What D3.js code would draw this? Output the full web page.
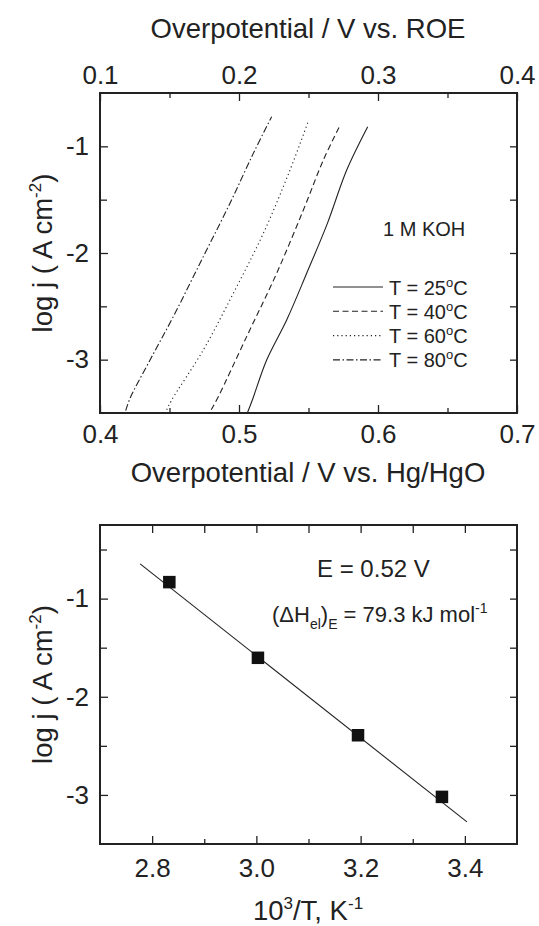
<!DOCTYPE html>
<html>
<head>
<meta charset="utf-8">
<script src="https://cdn.jsdelivr.net/npm/d3@7"></script>
<style>
  body { margin: 0; background: #fff; }
  svg { font-family: "Liberation Sans", Arial, sans-serif; }
  .tick line { stroke: #222; stroke-width: 1.3; }
  .tick text { fill: #222; }
</style>
</head>
<body>
<svg id="chart" width="539" height="926"></svg>
<script>
// Tafel curves, overpotential vs Hg/HgO (V) and log j
var curve25 = [[0.506,-3.5],[0.5096,-3.378],[0.5199,-3.003],[0.5343,-2.628],[0.5487,-2.19],[0.5636,-1.722],[0.5775,-1.222],[0.5926,-0.816]]
var curve40 = [[0.480,-3.47],[0.4851,-3.347],[0.5055,-2.784],[0.5271,-2.19],[0.5463,-1.597],[0.5607,-1.128],[0.5722,-0.816]]
var curve60 = [[0.448,-3.47],[0.4516,-3.378],[0.4743,-2.909],[0.4959,-2.378],[0.5175,-1.816],[0.5367,-1.222],[0.5499,-0.763]]
var curve80 = [[0.4185,-3.478],[0.4216,-3.362],[0.436,-3.003],[0.4527,-2.597],[0.4743,-2.034],[0.4935,-1.534],[0.5103,-1.066],[0.5235,-0.722]]
var tempLabels = ["25", "40", "60", "80"]
var dashes = [null, "6,3.5", "1.2,3", "7,2.5,1.5,2.5"]

// Arrhenius plot at E = 0.52 V
var invT = [2.833, 3.003, 3.195, 3.356]
var logj = [-0.832, -1.603, -2.392, -3.02]
var fitLine = [[2.777, -0.646], [3.404, -3.275]]

var svg = d3.select("#chart")
var ink = "#222"
var tickFont = "26px", titleFont = "27.5px"

// ---------- top panel ----------
var top1 = {left: 100, right: 517, top: 93, bottom: 413}

var x1 = d3.scaleLinear().domain([0.4, 0.7]).range([top1.left, top1.right])
var xRoe = d3.scaleLinear().domain([0.1, 0.4]).range([top1.left, top1.right])
var y1 = d3.scaleLinear().domain([-3.5, -0.5]).range([top1.bottom, top1.top])

function fmt1(d) { return d3.format(".1f")(d) }
function fmtInt(d) { return String(d) }   // plain hyphen like the original

svg.append("g").attr("transform", `translate(0,${top1.bottom})`)
   .call(d3.axisBottom(x1).tickValues([0.4, 0.5, 0.6, 0.7]).tickSize(-8).tickPadding(11.5).tickFormat(fmt1))
   .style("font-size", tickFont)
svg.append("g").attr("transform", `translate(0,${top1.bottom})`)
   .call(d3.axisBottom(x1).tickValues([0.45, 0.55, 0.65]).tickSize(-5).tickFormat(""))
svg.append("g").attr("transform", `translate(0,${top1.top})`)
   .call(d3.axisTop(xRoe).tickValues([0.1, 0.2, 0.3, 0.4]).tickSize(-8).tickPadding(9).tickFormat(fmt1))
   .style("font-size", tickFont)
svg.append("g").attr("transform", `translate(0,${top1.top})`)
   .call(d3.axisTop(xRoe).tickValues([0.15, 0.25, 0.35]).tickSize(-5).tickFormat(""))
svg.append("g").attr("transform", `translate(${top1.left},0)`)
   .call(d3.axisLeft(y1).tickValues([-1, -2, -3]).tickSize(-8).tickPadding(11).tickFormat(fmtInt))
   .style("font-size", tickFont)
svg.append("g").attr("transform", `translate(${top1.left},0)`)
   .call(d3.axisLeft(y1).tickValues([-1.5, -2.5]).tickSize(-7).tickFormat(""))
svg.append("g").attr("transform", `translate(${top1.right},0)`)
   .call(d3.axisRight(y1).tickValues([-1, -1.5, -2, -2.5, -3]).tickSize(-7).tickFormat(""))

svg.selectAll(".domain").remove()

svg.append("rect")
   .attr("x", top1.left).attr("y", top1.top)
   .attr("width", top1.right - top1.left).attr("height", top1.bottom - top1.top)
   .attr("fill", "none").attr("stroke", ink).attr("stroke-width", 2)

var line1 = d3.line().curve(d3.curveCatmullRom.alpha(0.5)).x(d => x1(d[0])).y(d => y1(d[1]))
var curves = [curve25, curve40, curve60, curve80]

svg.selectAll("path.tafel")
   .data(curves)
   .enter().append("path")
   .attr("class", "tafel")
   .attr("d", line1)
   .attr("fill", "none")
   .attr("stroke", ink)
   .attr("stroke-width", 1.1)
   .attr("stroke-dasharray", (d, i) => dashes[i])

// legend
var leg = svg.selectAll("g.leg")
   .data(tempLabels)
   .enter().append("g")
   .attr("class", "leg")
   .attr("transform", (d, i) => `translate(333,${287 + i * 24.3})`)
leg.append("line")
   .attr("x1", 0).attr("x2", 50).attr("y1", 0).attr("y2", 0)
   .attr("stroke", ink).attr("stroke-width", 1.1)
   .attr("stroke-dasharray", (d, i) => dashes[i])
var legText = leg.append("text")
   .attr("x", 56).attr("y", 7.5)
   .style("font-size", "20px").attr("fill", ink)
legText.append("tspan").text(d => "T = " + d)
legText.append("tspan").attr("dy", -8).style("font-size", "13px").text("o")
legText.append("tspan").attr("dy", 8).text("C")

svg.append("text").attr("x", 383).attr("y", 236)
   .style("font-size", "20px").attr("fill", ink).text("1 M KOH")

// axis titles
svg.append("text").attr("x", 308).attr("y", 38).attr("text-anchor", "middle")
   .style("font-size", titleFont).attr("fill", ink).text("Overpotential / V vs. ROE")
svg.append("text").attr("x", 308).attr("y", 482).attr("text-anchor", "middle")
   .style("font-size", titleFont).attr("fill", ink).text("Overpotential / V vs. Hg/HgO")

function yTitle(cy) {
  var t = svg.append("text")
     .attr("transform", `translate(52,${cy}) rotate(-90)`)
     .attr("text-anchor", "middle")
     .style("font-size", titleFont).attr("fill", ink)
  t.append("tspan").text("log j ( A cm")
  t.append("tspan").attr("dy", -11).style("font-size", "17px").text("-2")
  t.append("tspan").attr("dy", 11).text(")")
}
yTitle((top1.top + top1.bottom) / 2)

// ---------- bottom panel ----------
var bot = {left: 100, right: 517, top: 525, bottom: 844}

var x2 = d3.scaleLinear().domain([2.7, 3.5]).range([bot.left, bot.right])
var y2 = d3.scaleLinear().domain([-3.5, -0.25]).range([bot.bottom, bot.top])

var g2 = svg.append("g")
g2.append("g").attr("transform", `translate(0,${bot.bottom})`)
   .call(d3.axisBottom(x2).tickValues([2.8, 3.0, 3.2, 3.4]).tickSize(-8).tickPadding(14.5).tickFormat(fmt1))
   .style("font-size", tickFont)
g2.append("g").attr("transform", `translate(0,${bot.bottom})`)
   .call(d3.axisBottom(x2).tickValues([2.9, 3.1, 3.3]).tickSize(-5).tickFormat(""))
g2.append("g").attr("transform", `translate(0,${bot.top})`)
   .call(d3.axisTop(x2).tickValues([2.8, 2.9, 3.0, 3.1, 3.2, 3.3, 3.4]).tickSize(-8).tickFormat(""))
g2.append("g").attr("transform", `translate(${bot.left},0)`)
   .call(d3.axisLeft(y2).tickValues([-1, -2, -3]).tickSize(-8).tickPadding(11).tickFormat(fmtInt))
   .style("font-size", tickFont)
g2.append("g").attr("transform", `translate(${bot.left},0)`)
   .call(d3.axisLeft(y2).tickValues([-0.5, -1.5, -2.5]).tickSize(-7).tickFormat(""))
g2.append("g").attr("transform", `translate(${bot.right},0)`)
   .call(d3.axisRight(y2).tickValues([-0.5, -1, -1.5, -2, -2.5, -3]).tickSize(-7).tickFormat(""))
g2.selectAll(".domain").remove()

g2.append("rect")
   .attr("x", bot.left).attr("y", bot.top)
   .attr("width", bot.right - bot.left).attr("height", bot.bottom - bot.top)
   .attr("fill", "none").attr("stroke", ink).attr("stroke-width", 2)

g2.append("path")
   .datum(fitLine)
   .attr("d", d3.line().x(d => x2(d[0])).y(d => y2(d[1])))
   .attr("fill", "none").attr("stroke", ink).attr("stroke-width", 1.1)

var sq = 12.5
g2.selectAll("rect.pt")
   .data(invT)
   .enter().append("rect")
   .attr("class", "pt")
   .attr("x", d => x2(d) - sq / 2)
   .attr("y", (d, i) => y2(logj[i]) - sq / 2)
   .attr("width", sq).attr("height", sq)
   .attr("fill", "#111")

g2.append("text").attr("x", 317).attr("y", 577)
   .style("font-size", "24px").attr("fill", ink).text("E = 0.52 V")

var dh = g2.append("text").attr("x", 272).attr("y", 622)
   .style("font-size", "22px").attr("fill", ink)
dh.append("tspan").text("(\u0394H")
dh.append("tspan").attr("dy", 7).style("font-size", "14px").text("el")
dh.append("tspan").attr("dy", -7).text(")")
dh.append("tspan").attr("dy", 7).style("font-size", "14px").text("E")
dh.append("tspan").attr("dy", -7).text(" = 79.3 kJ mol")
dh.append("tspan").attr("dy", -9).style("font-size", "14px").text("-1")

var xt = g2.append("text").attr("x", 308).attr("y", 920).attr("text-anchor", "middle")
   .style("font-size", titleFont).attr("fill", ink)
xt.append("tspan").text("10")
xt.append("tspan").attr("dy", -11).style("font-size", "17px").text("3")
xt.append("tspan").attr("dy", 11).text("/T, K")
xt.append("tspan").attr("dy", -11).style("font-size", "17px").text("-1")

yTitle((bot.top + bot.bottom) / 2)
</script>
</body>
</html>
